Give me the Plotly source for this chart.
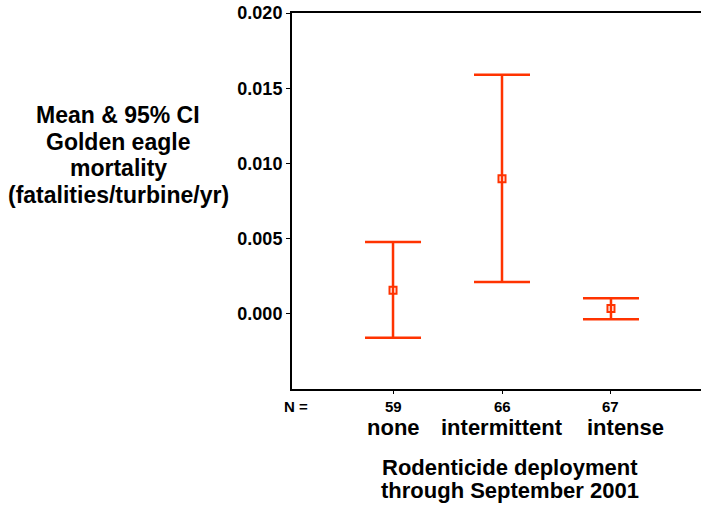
import plotly.graph_objects as go

categories = ["none", "intermittent", "intense"]
n_values = ["59", "66", "67"]
mean_vals = [0.00157, 0.00898, 0.00035]
upper_ci = [0.00478, 0.01590, 0.00104]
lower_ci = [-0.00159, 0.00212, -0.00036]
y_ticks = [0.000, 0.005, 0.010, 0.015, 0.020]
y_tick_labels = ["0.000", "0.005", "0.010", "0.015", "0.020"]
y_title_lines = ["Mean & 95% CI", "Golden eagle", "mortality", "(fatalities/turbine/yr)"]
x_title_lines = ["Rodenticide deployment", "through September 2001"]

xpos = list(range(1, len(categories) + 1))
cat_label_xshift = [0, 0, 15]  # layout only: label offsets in px
RED = "#FF3300"
FONT = "Liberation Sans, Arial, sans-serif"

fig = go.Figure()
fig.add_trace(go.Scatter(
    x=xpos, y=mean_vals, mode="markers",
    marker=dict(symbol="square-open", size=7, color=RED, line=dict(width=2, color=RED)),
    error_y=dict(type="data", symmetric=False,
                 array=[u - m for u, m in zip(upper_ci, mean_vals)],
                 arrayminus=[m - l for m, l in zip(mean_vals, lower_ci)],
                 color=RED, thickness=2.5, width=28),
    showlegend=False, hoverinfo="skip"))

fig.update_layout(
    width=701, height=507,
    margin=dict(l=292, r=0, t=13, b=118),
    paper_bgcolor="white", plot_bgcolor="white",
    font=dict(family=FONT, color="black"),
    xaxis=dict(range=[0.073, 3.826], tickvals=xpos, ticktext=["" for _ in xpos],
               ticks="outside", ticklen=3, tickcolor="black", tickwidth=1,
               showline=True, linecolor="black", linewidth=2, mirror=True,
               showgrid=False, zeroline=False),
    yaxis=dict(range=[-0.005, 0.020], tickvals=y_ticks, ticktext=y_tick_labels,
               ticks="outside", ticklen=4, tickcolor="black", tickwidth=1,
               tickfont=dict(size=18, family=FONT, weight="bold"),
               showline=True, linecolor="black", linewidth=2,
               showgrid=False, zeroline=False),
)

bold = lambda s: "<b>" + s + "</b>"

# N labels
fig.add_annotation(x=-0.024, xref="paper", y=0, yref="paper", yshift=-17, text=bold("N ="),
                   showarrow=False, xanchor="left", yanchor="middle",
                   font=dict(size=15))
for x, n, c, xs in zip(xpos, n_values, categories, cat_label_xshift):
    fig.add_annotation(x=x, xref="x", y=0, yref="paper", yshift=-17, text=bold(n),
                       showarrow=False, xanchor="center", yanchor="middle",
                       font=dict(size=15))
    fig.add_annotation(x=x, xref="x", y=0, yref="paper", yshift=-38, xshift=xs,
                       text=bold(c), showarrow=False, xanchor="center",
                       yanchor="middle", font=dict(size=22))

# x title lines
for i, line in enumerate(x_title_lines):
    fig.add_annotation(x=(510 - 292) / 409, xref="paper", y=0, yref="paper",
                       yshift=-(78 + 23 * i), text=bold(line), showarrow=False,
                       xanchor="center", yanchor="middle", font=dict(size=22))

# y title lines
for i, line in enumerate(y_title_lines):
    fig.add_annotation(x=(118 - 292) / 409, xref="paper", y=1, yref="paper",
                       yshift=-(115 - 13) - 26.5 * i, text=bold(line), showarrow=False,
                       xanchor="center", yanchor="middle", font=dict(size=23))

fig.write_html("out.html", config={"displayModeBar": False, "staticPlot": True},
               post_script="document.body.style.margin='0';document.body.style.overflow='hidden';")
